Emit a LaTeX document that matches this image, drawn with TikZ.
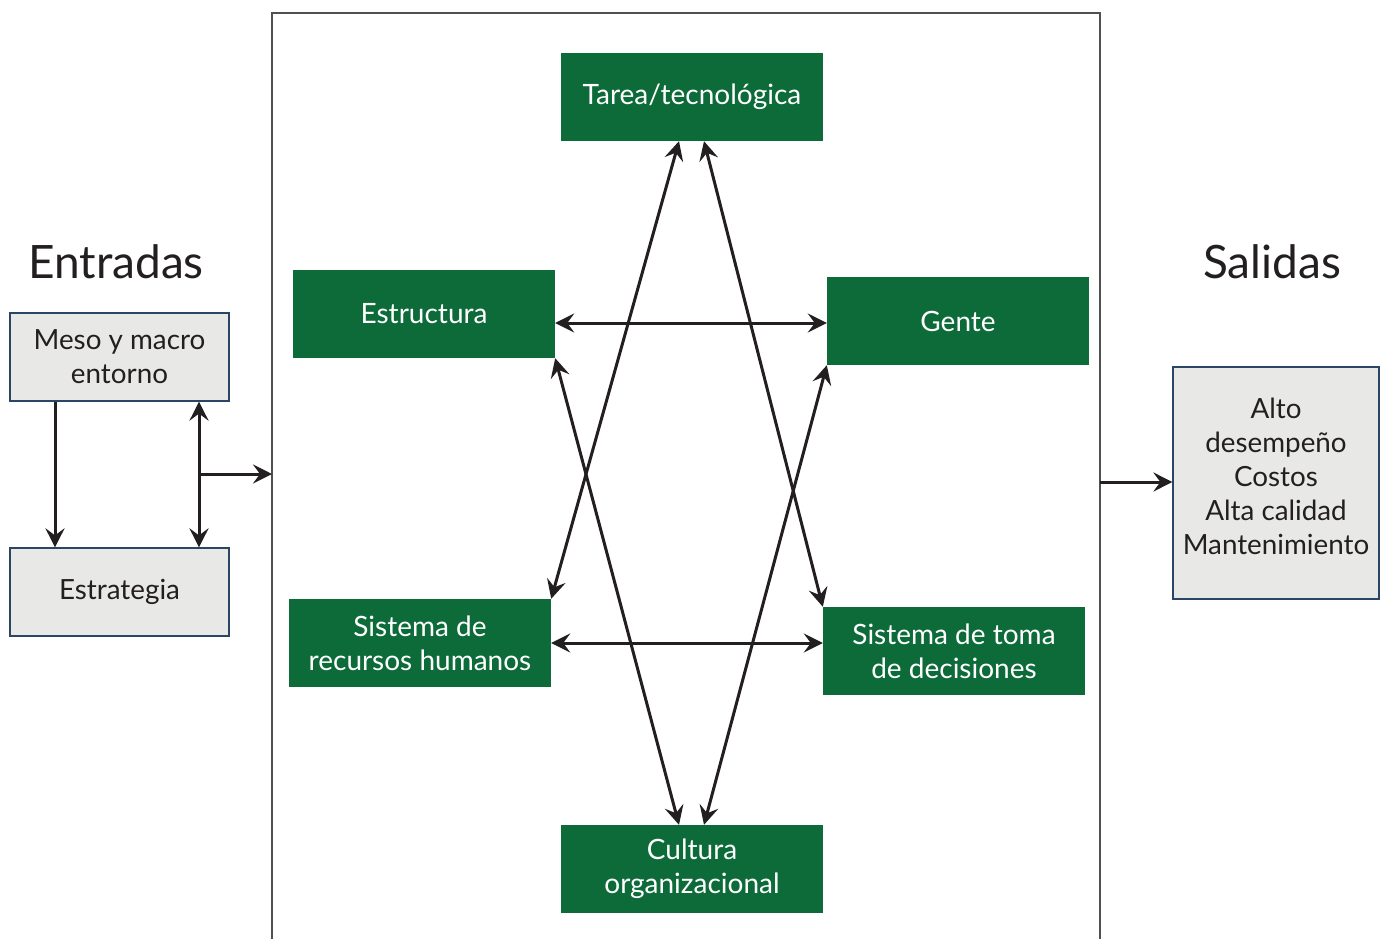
\documentclass[tikz,border=0pt]{standalone}
\usepackage{fontspec}
\setmainfont{Lato}
\usetikzlibrary{arrows.meta}
\definecolor{boxgreen}{HTML}{0D6B3A}
\definecolor{boxgray}{HTML}{E8E9E6}
\definecolor{boxedge}{HTML}{2A4565}
\definecolor{ink}{HTML}{231F20}
\definecolor{frame}{HTML}{505050}
\begin{document}
\begin{tikzpicture}[x=1pt,y=-1pt,
  greenbox/.style={fill=boxgreen, text=white, minimum width=262pt, minimum height=88pt,
    inner sep=0pt, align=center, font=\fontsize{28}{34}\selectfont},
  graybox/.style={fill=boxgray, draw=boxedge, line width=1.2pt, text=ink, inner sep=0pt,
    align=center, font=\fontsize{27.8}{34}\selectfont},
  boxtext/.style={text=ink, inner sep=0pt, align=center, font=\fontsize{27.8}{34}\selectfont},
  title/.style={text=ink, font=\fontsize{46}{52}\selectfont},
  link/.style={draw=ink, line width=3pt, {Stealth[length=19pt,width=19pt,inset=7pt]}-{Stealth[length=19pt,width=19pt,inset=7pt]}},
  onelink/.style={draw=ink, line width=3pt, -{Stealth[length=19pt,width=19pt,inset=7pt]}}]
\useasboundingbox (0,0) rectangle (1383,939);

% open frame of the organisation
\coordinate (fbl) at (272,939);
\coordinate (ftl) at (272,13);
\coordinate (ftr) at (1100,13);
\coordinate (fbr) at (1100,939);
\draw[frame, line width=1.5pt] (fbl) -- (ftl) -- (ftr) -- (fbr);

% organisational components
\node[greenbox] (tarea) at (692,97) {Tarea/tecnológica};
\node[greenbox] (estructura) at (424,314) {Estructura};
\node[greenbox] (gente) at (958,321) {Gente};
\node[greenbox] (rh) at (420,643) {Sistema de\\recursos humanos};
\node[greenbox] (toma) at (954,651) {Sistema de toma\\de decisiones};
\node[greenbox] (cultura) at (692,869) {Cultura\\organizacional};

% inputs and outputs
\node[title] (entradas) at (116,262) {Entradas};
\node[title] (salidas) at (1272,262) {Salidas};
\node[graybox, minimum width=219pt, minimum height=88pt] (meso) at (119.5,357) {Meso y macro\\entorno};
\node[graybox, minimum width=219pt, minimum height=88pt] (estrategia) at (119.5,592) {Estrategia};
\node[graybox, minimum width=206pt, minimum height=232pt] (alto) at (1276,483) {};
\node[boxtext] (altotext) at (1276,476) {Alto\\desempeño\\Costos\\Alta calidad\\Mantenimiento};

% links between components
\draw[link] ([yshift=-2pt]estructura.east |- gente.west) -- ([yshift=-2pt]gente.west);
\draw[link] (rh.east) -- (toma.west |- rh.east);
\draw[link] ([xshift=-13pt]tarea.south) -- (rh.north east);
\draw[link] ([xshift=12pt]tarea.south) -- (toma.north west);
\draw[link] (estructura.south east) -- ([xshift=-13pt]cultura.north);
\draw[link] (gente.south west) -- ([xshift=12pt]cultura.north);

% input side
\coordinate (mesoL) at ([xshift=-64.5pt]meso.south);
\coordinate (mesoR) at ([xshift=79.5pt]meso.south);
\coordinate (branch) at (199,474);
\coordinate (frameIn) at (272,474);
\draw[onelink] (mesoL) -- (mesoL |- estrategia.north);
\draw[link] (mesoR) -- (mesoR |- estrategia.north);
\draw[onelink] (branch) -- (frameIn);

% output side
\coordinate (frameOut) at (1100,482);
\draw[onelink] (frameOut) -- (alto.west |- frameOut);
\end{tikzpicture}
\end{document}
